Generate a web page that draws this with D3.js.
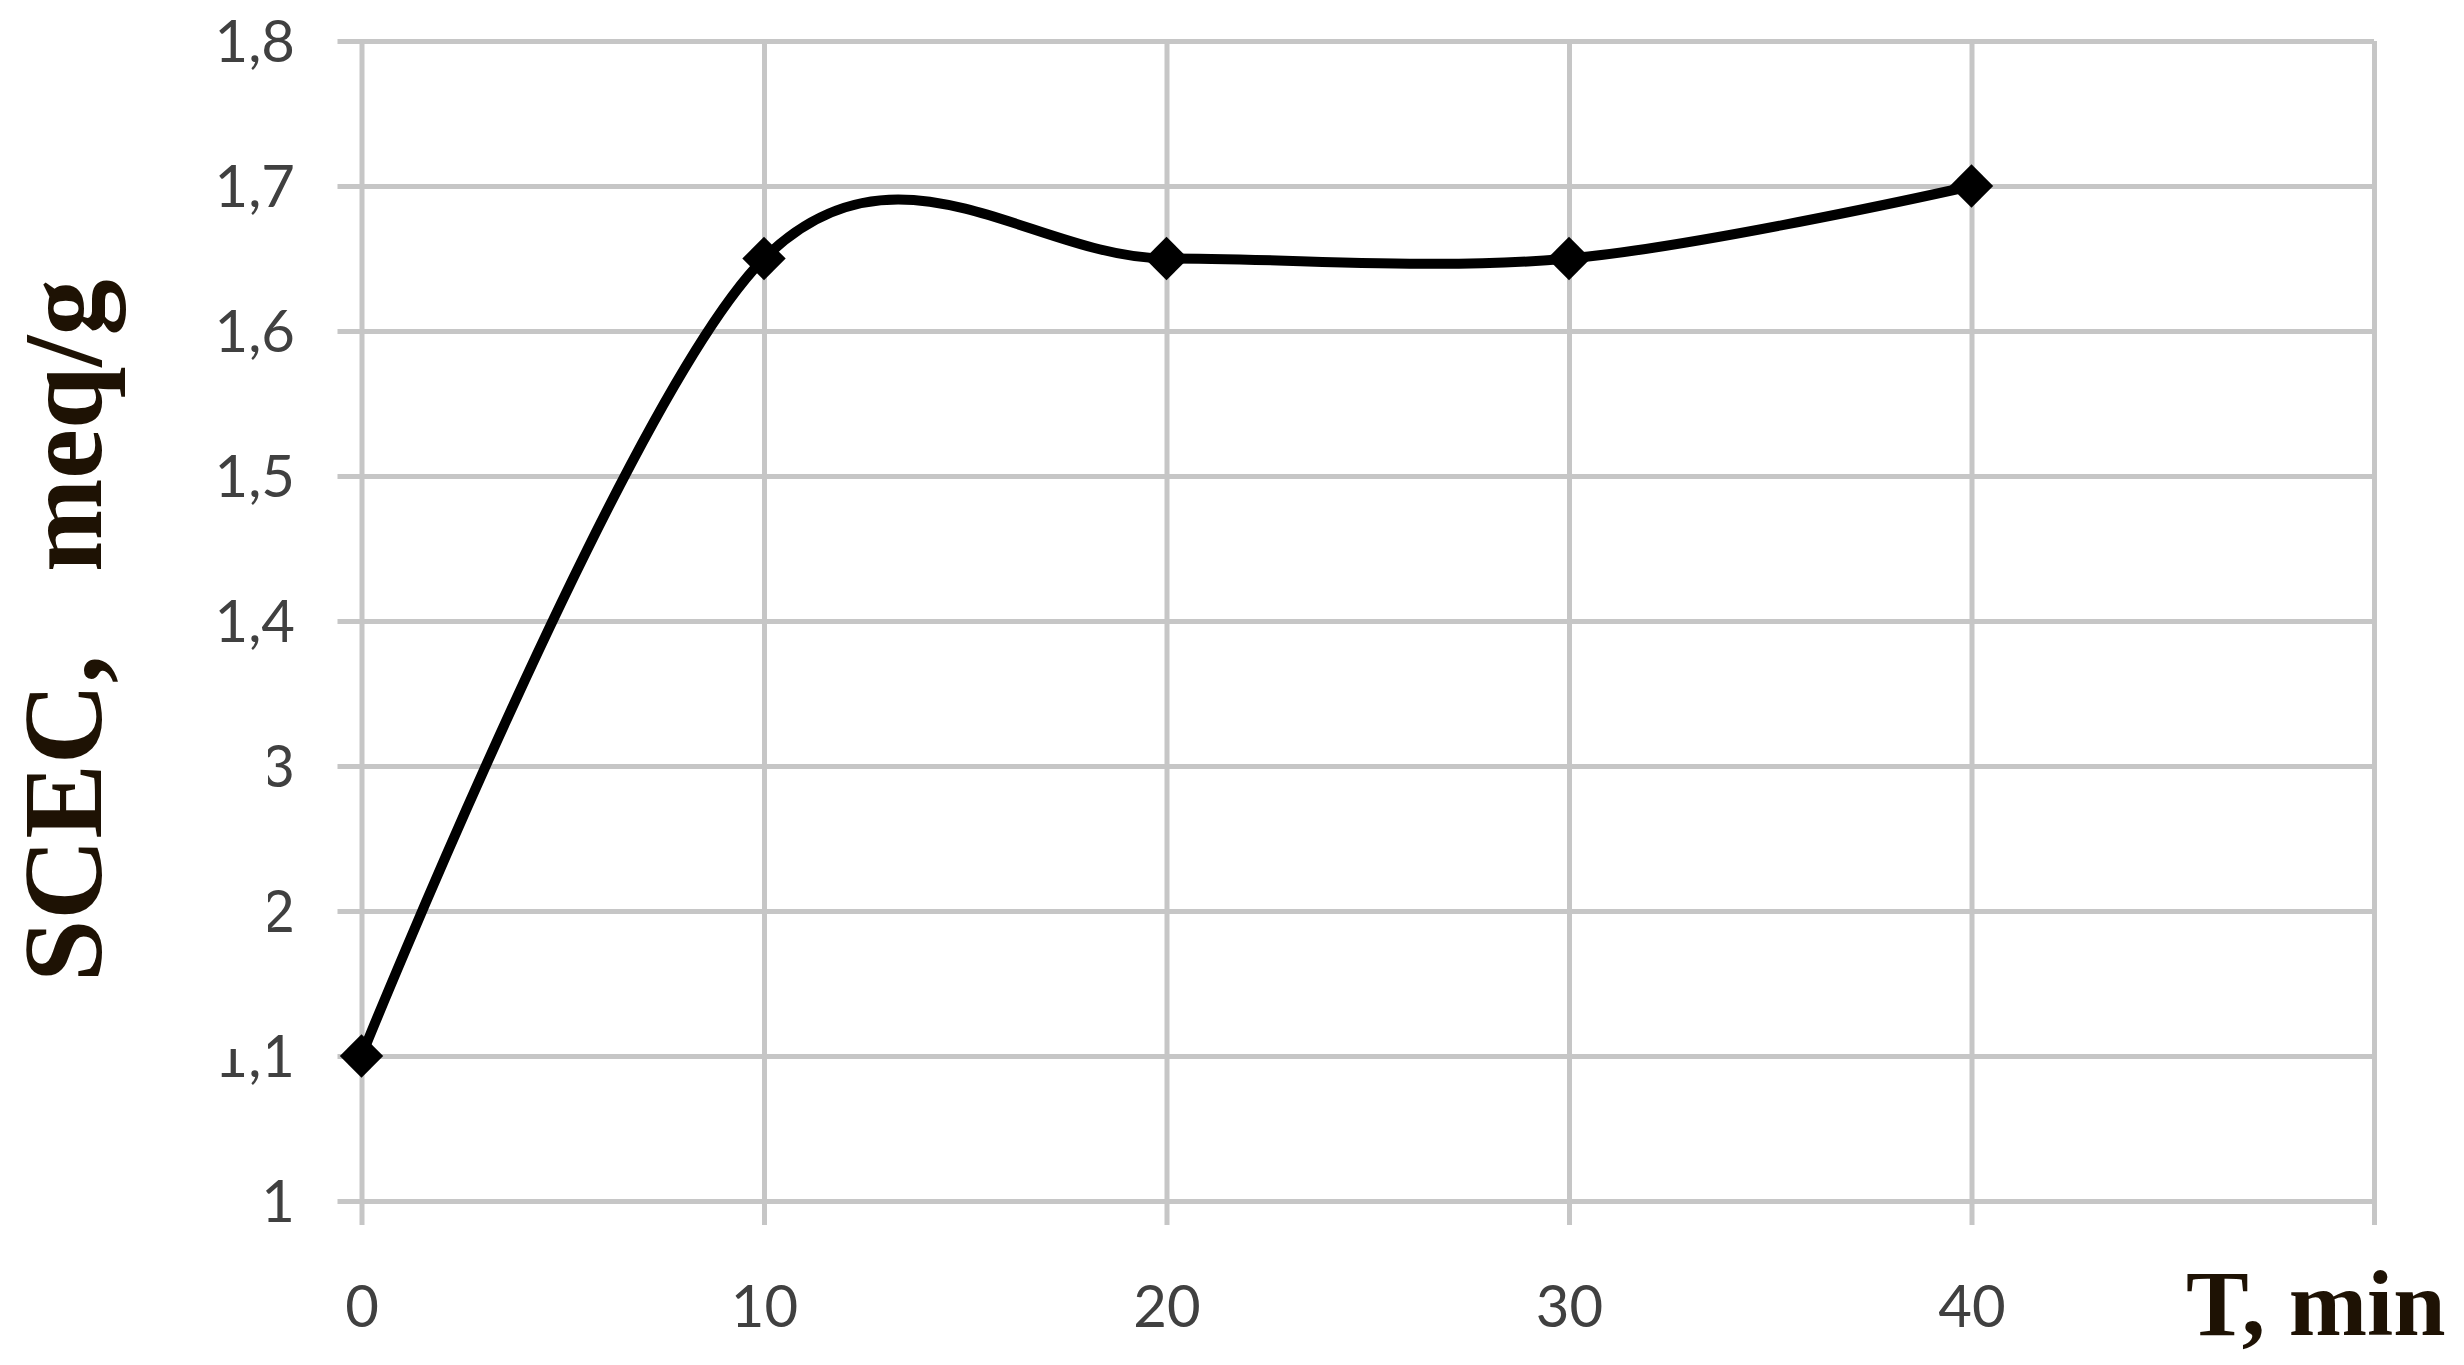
<!DOCTYPE html>
<html><head><meta charset="utf-8">
<script src="https://cdn.jsdelivr.net/npm/d3@7/dist/d3.min.js"></script>
<style>html,body{margin:0;padding:0;background:#fff;overflow:hidden}</style>
</head><body>
<svg id="chart" width="2464" height="1365"></svg>
<script>
// ---- data ----
const timeMin = [0, 10, 20, 30, 40];
const scecValues = [1.1, 1.65, 1.65, 1.65, 1.7];
const xTickValues = [0, 10, 20, 30, 40, 50];
const xTickLabels = ["0", "10", "20", "30", "40", ""];
const yTickValues = [1.0, 1.1, 1.2, 1.3, 1.4, 1.5, 1.6, 1.7, 1.8];
const yTickLabels = ["1", "1,1", "1,2", "1,3", "1,4", "1,5", "1,6", "1,7", "1,8"];
const xTitle = "T, min";
const yTitleParts = ["SCEC,", "meq/g"];

// ---- layout ----
const svg = d3.select("#chart");
const plotL = 361.5, plotR = 2374, plotT = 41, plotB = 1201;
const x = d3.scaleLinear().domain([0, 50]).range([plotL, plotR]);
const y = d3.scaleLinear().domain([1.0, 1.8]).range([plotB, plotT]);

const gridColor = "#c6c6c6";
const labelFont = "Lato, 'Open Sans', sans-serif";
const titleFont = "'Liberation Serif', 'Times New Roman', serif";

// horizontal gridlines + y tick labels via axis
const yAxis = d3.axisLeft(y).tickValues(yTickValues)
  .tickFormat((d, i) => yTickLabels[i]).tickSizeOuter(0);
const gy = svg.append("g").attr("transform", `translate(${plotL},0)`).call(yAxis);
gy.select(".domain").remove();
gy.selectAll(".tick line")
  .attr("x1", -24).attr("x2", plotR - plotL)
  .attr("stroke", gridColor).attr("stroke-width", 5);
gy.selectAll(".tick text")
  .attr("x", 295 - plotL).attr("dy", "0.36em")
  .attr("fill", "#404040").attr("font-family", labelFont).attr("font-size", 58)
  .attr("text-anchor", "end");

// vertical gridlines + x tick labels via axis
const xAxis = d3.axisBottom(x).tickValues(xTickValues)
  .tickFormat((d, i) => xTickLabels[i]).tickSizeOuter(0);
const gx = svg.append("g").attr("transform", `translate(0,${plotB})`).call(xAxis);
gx.select(".domain").remove();
gx.selectAll(".tick line")
  .attr("y1", plotT - plotB).attr("y2", 24)
  .attr("stroke", gridColor).attr("stroke-width", 5);
gx.selectAll(".tick text")
  .attr("y", 105).attr("dy", "0.36em")
  .attr("fill", "#404040").attr("font-family", labelFont).attr("font-size", 58);

// white text box of the y-axis title (covers part of the tick labels)
svg.append("rect").attr("x", 0).attr("y", 650).attr("width", 268).attr("height", 399)
  .attr("fill", "#ffffff");

// y title
const titleColor = "#1e1204";
svg.append("text")
  .attr("transform", "translate(101,982) rotate(-90)")
  .attr("font-family", titleFont).attr("font-weight", "bold").attr("font-size", 112)
  .attr("fill", titleColor).text(yTitleParts[0]);
svg.append("text")
  .attr("transform", "translate(101,572) rotate(-90)")
  .attr("font-family", titleFont).attr("font-weight", "bold").attr("font-size", 112)
  .attr("fill", titleColor).text(yTitleParts[1]);

// x title
svg.append("text")
  .attr("x", 2186).attr("y", 1335)
  .attr("font-family", titleFont).attr("font-weight", "bold").attr("font-size", 94)
  .attr("fill", titleColor).text(xTitle);

// series
const pts = timeMin.map((t, i) => [t, scecValues[i]]);
const line = d3.line().x(d => x(d[0])).y(d => y(d[1])).curve(d3.curveCardinal.tension(0));
svg.append("path").datum(pts).attr("d", line)
  .attr("fill", "none").attr("stroke", "#000").attr("stroke-width", 10)
  .attr("stroke-linejoin", "round");

const sym = d3.symbol().type(d3.symbolDiamond2).size(1200);
svg.selectAll("path.marker").data(pts).join("path").attr("class", "marker")
  .attr("transform", d => `translate(${x(d[0])},${y(d[1])})`)
  .attr("d", sym).attr("fill", "#000");
</script>
</body></html>
